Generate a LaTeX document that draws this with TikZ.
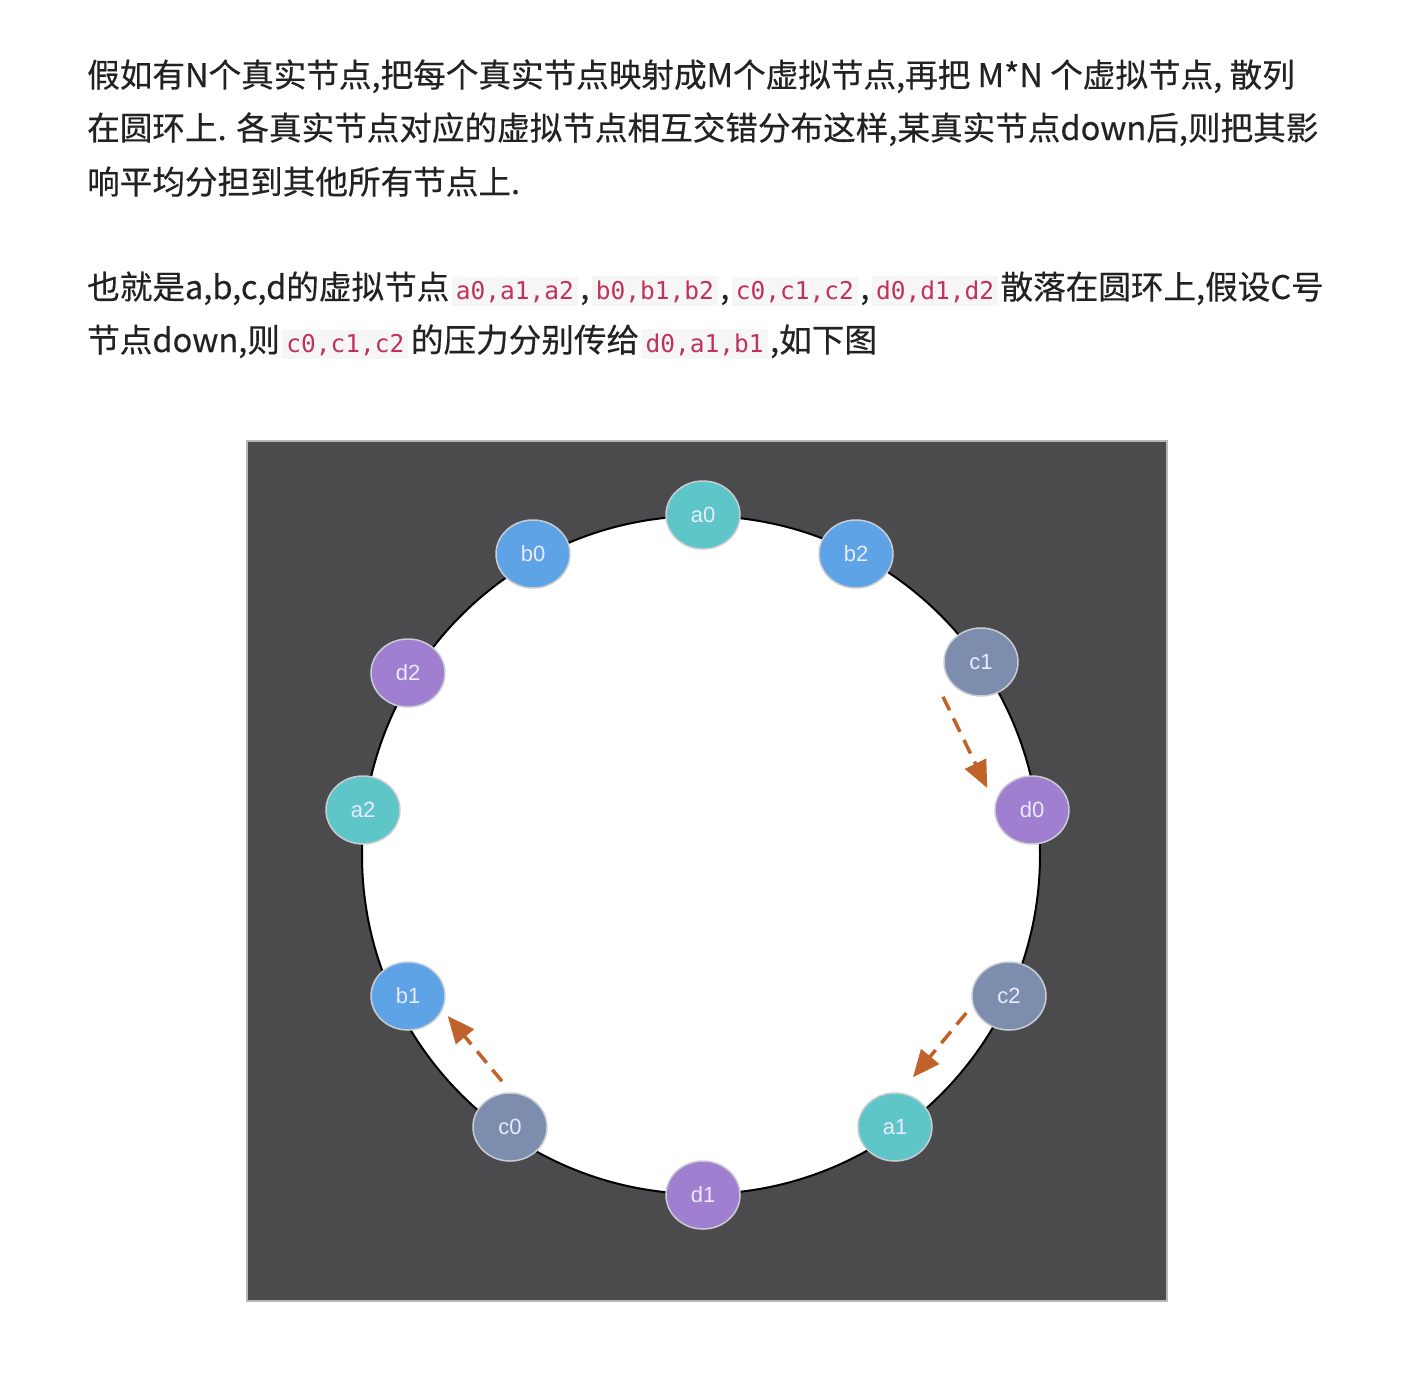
\documentclass[tikz,border=0pt]{standalone}
\usepackage{fontspec}
\usepackage{tikz}
\usetikzlibrary{shapes.geometric,arrows.meta}
\setmainfont{Noto Sans CJK SC}[FakeBold=0.4]
\newfontfamily\monofont{DejaVu Sans Mono}
\newfontfamily\labelfont{Liberation Sans}

\definecolor{panel}{HTML}{4B4B4D}
\definecolor{panelline}{HTML}{B8B8B8}
\definecolor{nodeline}{HTML}{C9CDD3}
\definecolor{acol}{HTML}{5EC6C8}
\definecolor{bcol}{HTML}{5EA3E6}
\definecolor{ccol}{HTML}{7D8DAD}
\definecolor{dcol}{HTML}{A07ED0}
\definecolor{pushcol}{HTML}{C0622A}
\definecolor{codered}{HTML}{C1325A}
\definecolor{codebg}{HTML}{F6F6F6}
\definecolor{bodytext}{HTML}{222222}

\newcommand{\codespan}[1]{{\setlength\fboxsep{4pt}\colorbox{codebg}{\monofont\fontsize{24.5}{24.5}\selectfont\color{codered}#1}}}

\begin{document}
\begin{tikzpicture}[x=1pt,y=-1pt]
      \tikzstyle{every node}+=[inner sep=0pt]
      \tikzstyle{para}=[anchor=base west, text=bodytext, font=\fontsize{32.6}{32.6}\selectfont]
      \tikzstyle{vnode}=[ellipse, draw=nodeline, line width=1.5pt, minimum width=74pt, minimum height=68pt, text=white!92!blue, font=\labelfont\fontsize{22}{22}\selectfont]
      \tikzstyle{push}=[draw=pushcol, line width=3.5pt, dash pattern=on 15pt off 9pt, -{Triangle[length=27pt,width=23pt]}]
      \useasboundingbox (0,0) rectangle (1406,1382);
      \fill [white] (0,0) rectangle (1406,1382);
      % text above the picture
      \node [para] (line1) at (87,87) {假如有N个真实节点,把每个真实节点映射成M个虚拟节点,再把 M*N 个虚拟节点, 散列};
      \node [para] (line2) at (87,140) {在圆环上. 各真实节点对应的虚拟节点相互交错分布这样,某真实节点down后,则把其影};
      \node [para] (line3) at (87,194) {响平均分担到其他所有节点上.};
      \node [para] (line4) at (87,299) {也就是a,b,c,d的虚拟节点\hspace{2.5pt}\codespan{a0,a1,a2}\hspace{2.5pt},\hspace{2.5pt}\codespan{b0,b1,b2}\hspace{2.5pt},\hspace{2.5pt}\codespan{c0,c1,c2}\hspace{2.5pt},\hspace{2.5pt}\codespan{d0,d1,d2}\hspace{2.5pt}散落在圆环上,假设C号};
      \node [para] (line5) at (87,352) {节点down,则\hspace{2.5pt}\codespan{c0,c1,c2}\hspace{2.5pt}的压力分别传给\hspace{2.5pt}\codespan{d0,a1,b1}\hspace{2.5pt},如下图};
      % the ring
      \draw [panelline, fill=panel, line width=1.5pt] (247,441) rectangle (1167,1301);
      \draw [black, fill=white, line width=2pt] (701,855) circle (339);
      % virtual nodes
      \node [vnode, fill=acol] (a0) at (703,515) {a0};
      \node [vnode, fill=bcol] (b0) at (533,554) {b0};
      \node [vnode, fill=bcol] (b2) at (856,554) {b2};
      \node [vnode, fill=dcol] (d2) at (408,673) {d2};
      \node [vnode, fill=ccol] (c1) at (981,662) {c1};
      \node [vnode, fill=acol] (a2) at (363,810) {a2};
      \node [vnode, fill=dcol] (d0) at (1032,810) {d0};
      \node [vnode, fill=bcol] (b1) at (408,996) {b1};
      \node [vnode, fill=ccol] (c2) at (1009,996) {c2};
      \node [vnode, fill=ccol] (c0) at (510,1127) {c0};
      \node [vnode, fill=acol] (a1) at (895,1127) {a1};
      \node [vnode, fill=dcol] (d1) at (703,1195) {d1};
      % load handed over when c goes down
      \draw [push] ([xshift=-38pt]c1.south) -- ([xshift=-7pt,yshift=22pt]d0.west);
      \draw [push] ([xshift=-5pt,yshift=-17pt]c2.west) -- ([xshift=18pt,yshift=15pt]a1.north);
      \draw [push] ([xshift=-8pt,yshift=11pt]c0.north) -- ([xshift=2pt,yshift=-20pt]b1.east);
    \end{tikzpicture}
\end{document}
